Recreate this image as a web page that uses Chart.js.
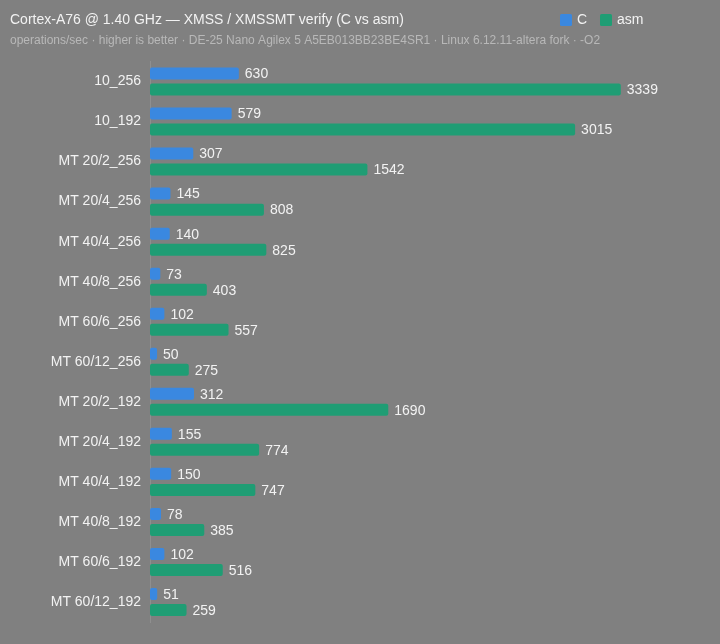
<!DOCTYPE html>
<html>
<head>
<meta charset="utf-8">
<script src="https://cdn.jsdelivr.net/npm/chart.js@4.4.1/dist/chart.umd.min.js"></script>
<style>
  html, body { margin: 0; padding: 0; background: #808080; }
  #wrap { width: 720px; height: 644px; position: relative; }
</style>
</head>
<body>
<div id="wrap"><canvas id="grafico"></canvas></div>
<script>
// dados
const categorias = ['10_256', '10_192', 'MT 20/2_256', 'MT 20/4_256', 'MT 40/4_256', 'MT 40/8_256',
    'MT 60/6_256', 'MT 60/12_256', 'MT 20/2_192', 'MT 20/4_192', 'MT 40/4_192', 'MT 40/8_192',
    'MT 60/6_192', 'MT 60/12_192'];
const valoresC = [630, 579, 307, 145, 140, 73, 102, 50, 312, 155, 150, 78, 102, 51];
const valoresAsm = [3339, 3015, 1542, 808, 825, 403, 557, 275, 1690, 774, 747, 385, 516, 259];

const titulo = 'Cortex-A76 @ 1.40 GHz \u2014 XMSS / XMSSMT verify (C vs asm)';
const subtitulo = 'operations/sec \u00b7 higher is better \u00b7 DE-25 Nano Agilex 5 A5EB013BB23BE4SR1 \u00b7 Linux 6.12.11-altera fork \u00b7 -O2';

const corC = '#3a88e0';
const corAsm = '#1f9d74';
const fonte = '"Liberation Sans", Arial, sans-serif';

// cabeçalho + legenda desenhados à mão
const cabecalho = {
    id: 'cabecalho',
    afterDraw(chart) {
        const ctx = chart.ctx;
        ctx.save();
        ctx.textBaseline = 'middle';
        ctx.textAlign = 'left';
        ctx.fillStyle = '#f2f2f2';
        ctx.font = '14px ' + fonte;
        ctx.fillText(titulo, 10, 20);
        ctx.fillStyle = '#b8b8b8';
        ctx.font = '12px ' + fonte;
        ctx.fillText(subtitulo, 10, 41);

        // legenda
        const itens = [{ t: 'C', c: corC, x: 560 }, { t: 'asm', c: corAsm, x: 600 }];
        ctx.font = '14px ' + fonte;
        itens.forEach(it => {
            ctx.fillStyle = it.c;
            ctx.beginPath();
            ctx.roundRect(it.x, 14, 12, 12, 1.5);
            ctx.fill();
            ctx.fillStyle = '#f2f2f2';
            ctx.fillText(it.t, it.x + 17, 20);
        });
        ctx.restore();
    }
};

// rótulo de valor no fim de cada barra
const rotulos = {
    id: 'rotulos',
    afterDatasetsDraw(chart) {
        const ctx = chart.ctx;
        ctx.save();
        ctx.font = '14px ' + fonte;
        ctx.fillStyle = '#f2f2f2';
        ctx.textAlign = 'left';
        ctx.textBaseline = 'middle';
        chart.data.datasets.forEach((ds, i) => {
            chart.getDatasetMeta(i).data.forEach((bar, j) => {
                ctx.fillText(String(ds.data[j]), bar.x + 6, bar.y + 1);
            });
        });
        ctx.restore();
    }
};

new Chart(document.getElementById('grafico'), {
    type: 'bar',
    plugins: [cabecalho, rotulos],
    data: {
        labels: categorias,
        datasets: [
            { label: 'C', data: valoresC, backgroundColor: corC, borderRadius: 2, borderSkipped: false,
              categoryPercentage: 0.8, barPercentage: 0.75 },
            { label: 'asm', data: valoresAsm, backgroundColor: corAsm, borderRadius: 2, borderSkipped: false,
              categoryPercentage: 0.8, barPercentage: 0.75 }
        ]
    },
    options: {
        indexAxis: 'y',
        responsive: true,
        maintainAspectRatio: false,
        animation: false,
        layout: { padding: { top: 61.5, bottom: 22, left: 0, right: 6 } },
        scales: {
            x: { display: false, min: 0, max: 4000 },
            y: {
                afterFit: s => { s.width = 150; },
                grid: { display: false, drawTicks: false },
                border: { display: true, color: 'rgba(255,255,255,0.12)', width: 1 },
                ticks: { color: '#f2f2f2', font: { size: 14, family: fonte }, padding: 9 }
            }
        },
        plugins: {
            legend: { display: false },
            tooltip: { enabled: false }
        }
    }
});
</script>
</body>
</html>
